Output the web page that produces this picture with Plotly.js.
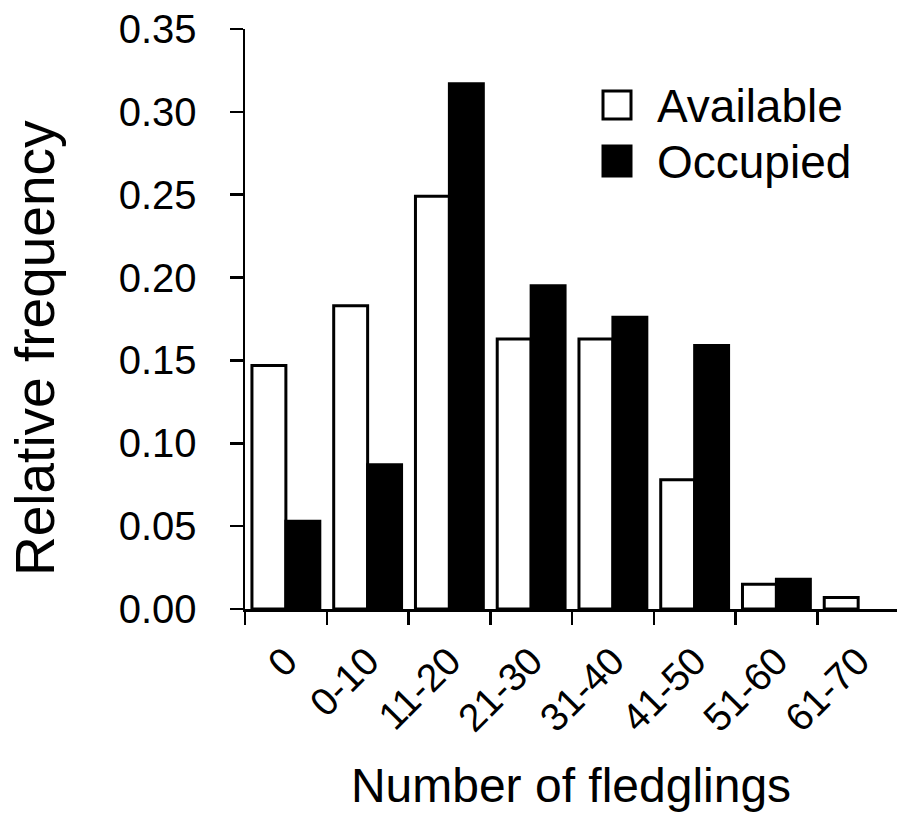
<!DOCTYPE html>
<html>
<head>
<meta charset="utf-8">
<script src="https://cdn.plot.ly/plotly-3.0.1.min.js"></script>
<style>html,body{margin:0;padding:0;background:#fff;}#chart{width:897px;height:827px;}</style>
</head>
<body>
<div id="chart"></div>
<script>
var categories = ["0", "0-10", "11-20", "21-30", "31-40", "41-50", "51-60", "61-70"];
var availableValues = [0.147, 0.183, 0.249, 0.163, 0.163, 0.078, 0.015, 0.007];
var occupiedValues = [0.053, 0.087, 0.317, 0.195, 0.176, 0.159, 0.018, null];
var seriesNames = ["Available", "Occupied"];
var yTickValues = [0, 0.05, 0.10, 0.15, 0.20, 0.25, 0.30, 0.35];

var FONT = "Liberation Sans, Arial, sans-serif";

var traces = [
  {
    type: "bar", name: seriesNames[0], x: categories, y: availableValues,
    marker: {color: "#ffffff", line: {color: "#000000", width: 3}},
    showlegend: false, hoverinfo: "x+y"
  },
  {
    type: "bar", name: seriesNames[1], x: categories, y: occupiedValues,
    marker: {color: "#000000", line: {color: "#000000", width: 3}},
    showlegend: false, hoverinfo: "x+y"
  }
];

var layout = {
  width: 897, height: 827,
  margin: {l: 245, r: 0, t: 29, b: 218, pad: 0},
  paper_bgcolor: "#ffffff", plot_bgcolor: "#ffffff",
  font: {family: FONT, color: "#000000", size: 39},
  barmode: "group", bargap: 0.17, bargroupgap: 0,
  showlegend: false,
  xaxis: {
    type: "category",
    range: [-0.5, 7.475],
    showline: true, linecolor: "#000000", linewidth: 2.5,
    ticks: "outside", ticklen: 13, tickwidth: 2.5, tickcolor: "#000000",
    tickson: "boundaries",
    tickangle: -45,
    tickfont: {family: FONT, size: 39, color: "#000000"},
    ticklabelstandoff: 11,
    showgrid: false, zeroline: false,
    title: {text: "Number of fledglings", font: {family: FONT, size: 48, color: "#000000"}, standoff: 30}
  },
  yaxis: {
    range: [0, 0.35],
    tickvals: yTickValues,
    tickformat: ".2f",
    showline: true, linecolor: "#000000", linewidth: 2.5,
    ticks: "outside", ticklen: 13, tickwidth: 2.5, tickcolor: "#000000",
    tickfont: {family: FONT, size: 40, color: "#000000"},
    ticklabelstandoff: 25,
    showgrid: false, zeroline: false
  },
  shapes: [
    {type: "rect", xref: "paper", yref: "paper",
     x0: (603 - 245) / 652, x1: (631 - 245) / 652,
     y0: (609 - 119) / 580, y1: (609 - 91) / 580,
     fillcolor: "#ffffff", line: {color: "#000000", width: 3}},
    {type: "rect", xref: "paper", yref: "paper",
     x0: (603 - 245) / 652, x1: (631 - 245) / 652,
     y0: (609 - 176) / 580, y1: (609 - 146) / 580,
     fillcolor: "#000000", line: {color: "#000000", width: 3}}
  ],
  annotations: [
    {text: seriesNames[0], xref: "paper", yref: "paper", x: (655 - 245) / 652, y: (609 - 106) / 580,
     xanchor: "left", yanchor: "middle", showarrow: false, font: {family: FONT, size: 46, color: "#000000"}},
    {text: seriesNames[1], xref: "paper", yref: "paper", x: (655 - 245) / 652, y: (609 - 162) / 580,
     xanchor: "left", yanchor: "middle", showarrow: false, font: {family: FONT, size: 46, color: "#000000"}},
    {text: "Relative frequency", xref: "paper", yref: "paper", x: -(245 - 35) / 652, y: (609 - 348) / 580,
     xanchor: "center", yanchor: "middle", textangle: -90, showarrow: false,
     font: {family: FONT, size: 55, color: "#000000"}}
  ]
};

Plotly.newPlot("chart", traces, layout, {displayModeBar: false, staticPlot: true});
</script>
</body>
</html>
